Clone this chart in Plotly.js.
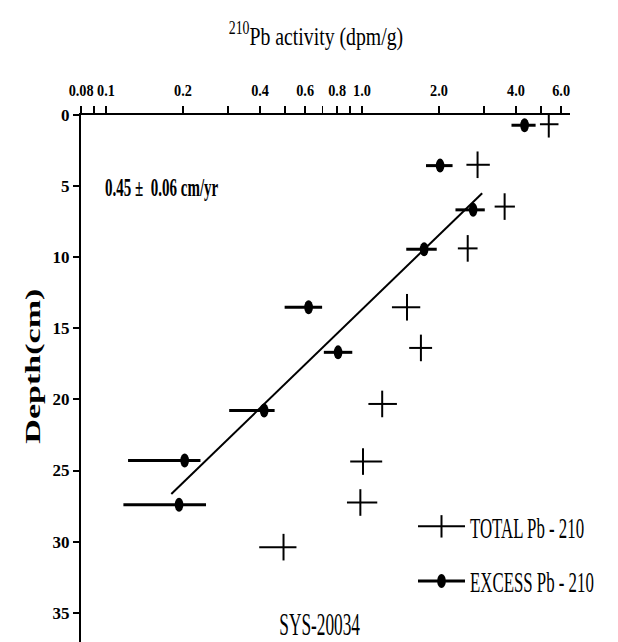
<!DOCTYPE html>
<html>
<head>
<meta charset="utf-8">
<script src="https://cdn.plot.ly/plotly-3.0.1.min.js"></script>
<style>
  html, body { margin: 0; padding: 0; background: #fff; }
  #chart { width: 618px; height: 642px; }
</style>
</head>
<body>
<div id="chart"></div>
<script>
// Core SYS-20034: 210Pb activity (dpm/g) versus depth (cm)

// Total 210Pb: value and horizontal error limits
var totalDepth = [0.65, 3.5, 6.44, 9.38, 13.52, 16.38, 20.32, 24.37, 27.25, 30.39];
var totalVal   = [5.37, 2.83, 3.61, 2.59, 1.50, 1.70, 1.20, 1.01, 0.986, 0.494];
var totalLo    = [4.96, 2.56, 3.30, 2.37, 1.31, 1.53, 1.06, 0.90, 0.874, 0.397];
var totalHi    = [5.86, 3.16, 3.96, 2.83, 1.69, 1.88, 1.37, 1.20, 1.148, 0.555];

// Excess 210Pb: value and horizontal error limits
var excessDepth = [0.72, 3.56, 6.67, 9.44, 13.52, 16.69, 20.78, 24.30, 27.41];
var excessVal   = [4.32, 2.02, 2.72, 1.75, 0.619, 0.807, 0.415, 0.203, 0.193];
var excessLo    = [3.84, 1.78, 2.32, 1.49, 0.499, 0.71, 0.303, 0.122, 0.117];
var excessHi    = [4.77, 2.26, 3.02, 1.96, 0.699, 0.917, 0.456, 0.234, 0.246];

// Regression line through the excess profile
var fitVal   = [2.95, 0.18];
var fitDepth = [5.5, 26.65];

// Axis ticks
var xTickVals = [0.08, 0.09, 0.1, 0.2, 0.3, 0.4, 0.5, 0.6, 0.7, 0.8, 0.9, 1, 2, 3, 4, 5, 6];
var xTickText = ['0.08', '', '0.1', '0.2', '', '0.4', '', '0.6', '', '0.8', '', '1.0', '2.0', '', '4.0', '', '6.0'];
var yTickVals = [0, 5, 10, 15, 20, 25, 30, 35];

var rateText  = '0.45 \u00b1\u00a0 0.06 cm/yr';
var coreName  = 'SYS-20034';
var totalName = 'TOTAL Pb - 210';
var excessName = 'EXCESS Pb - 210';

var serif = '"Liberation Serif", "Times New Roman", serif';

function plus(vals, hi) { return vals.map(function (v, i) { return hi[i] - v; }); }
function minus(vals, lo) { return vals.map(function (v, i) { return v - lo[i]; }); }

var traces = [
  {
    x: fitVal, y: fitDepth, mode: 'lines',
    line: { color: '#000', width: 2 },
    showlegend: false, hoverinfo: 'skip'
  },
  {
    x: totalVal, y: totalDepth, mode: 'markers',
    marker: { symbol: 'line-ns', size: 19, color: '#000', line: { color: '#000', width: 2 } },
    error_x: { type: 'data', symmetric: false, array: plus(totalVal, totalHi),
               arrayminus: minus(totalVal, totalLo), color: '#000', thickness: 2, width: 0 },
    showlegend: false
  },
  {
    x: excessVal, y: excessDepth, mode: 'markers',
    marker: { symbol: 'circle', size: 14, color: '#000' },
    error_x: { type: 'data', symmetric: false, array: plus(excessVal, excessHi),
               arrayminus: minus(excessVal, excessLo), color: '#000', thickness: 3, width: 0 },
    showlegend: false
  },
  // legend keys: a line with the series marker in the middle
  {
    x: [null], y: [null], mode: 'lines+markers', name: totalName, legendgroup: 'total',
    line: { color: '#000', width: 2 },
    marker: { symbol: 'line-ns', size: 19, color: '#000', line: { color: '#000', width: 2 } }
  },
  {
    x: [null], y: [null], mode: 'lines+markers', name: excessName, legendgroup: 'excess',
    line: { color: '#000', width: 3 },
    marker: { symbol: 'circle', size: 14, color: '#000' }
  }
];

var W = 618, H = 642, L = 81, R = 48, T = 115, B = 0;
function px2paperX(px) { return (px - L) / (W - L - R); }
function px2paperY(py) { return 1 - (py - T) / (H - T - B); }

var layout = {
  width: W, height: H,
  margin: { l: L, r: R, t: T, b: B, pad: 0, autoexpand: false },
  paper_bgcolor: '#fff', plot_bgcolor: '#fff',
  font: { family: serif, color: '#000' },
  title: {
    text: '<sup>210</sup>Pb activity (dpm/g)',
    font: { family: serif, size: 26, color: '#000' },
    xref: 'container', yref: 'container', x: 316 / W, xanchor: 'center',
    y: 1 - 36 / H, yanchor: 'middle'
  },
  xaxis: {
    type: 'log', side: 'top',
    range: [Math.log10(0.0799), Math.log10(6.5)],
    tickmode: 'array', tickvals: xTickVals, ticktext: xTickText, tickangle: 0,
    ticks: 'outside', ticklen: 7, tickwidth: 1.5, tickcolor: '#000', ticklabelstandoff: 3,
    tickfont: { family: serif, size: 17, weight: 'bold', color: '#000' },
    showline: true, linewidth: 2.5, linecolor: '#000',
    showgrid: false, zeroline: false
  },
  yaxis: {
    range: [37.06, 0],
    tickmode: 'array', tickvals: yTickVals,
    ticks: 'outside', ticklen: 6, tickwidth: 2, tickcolor: '#000',
    tickfont: { family: serif, size: 17, weight: 'bold', color: '#000' },
    showline: true, linewidth: 2, linecolor: '#000',
    showgrid: false, zeroline: false
  },
  showlegend: true,
  legend: {
    x: px2paperX(413), y: px2paperY(554), xanchor: 'left', yanchor: 'middle',
    font: { family: serif, size: 29, color: '#000' },
    bgcolor: 'rgba(0,0,0,0)', borderwidth: 0, itemwidth: 47,
    tracegroupgap: 14, traceorder: 'grouped'
  },
  annotations: [
    {
      text: rateText, xref: 'paper', yref: 'paper',
      x: px2paperX(103), y: px2paperY(187), xanchor: 'left', yanchor: 'middle', align: 'left',
      showarrow: false, font: { family: serif, size: 25, weight: 'bold', color: '#000' }
    },
    {
      text: coreName, xref: 'paper', yref: 'paper',
      x: px2paperX(319), y: px2paperY(624), xanchor: 'center', yanchor: 'middle',
      showarrow: false, font: { family: serif, size: 32, color: '#000' }
    },
    {
      text: 'Depth(cm)', xref: 'paper', yref: 'paper', textangle: -90,
      x: px2paperX(33), y: px2paperY(366), xanchor: 'center', yanchor: 'middle',
      showarrow: false, font: { family: serif, size: 21, weight: 'bold', color: '#000' }
    }
  ]
};

// Narrow (or stretch) SVG text along its own baseline direction
function squeeze(nodes, f) {
  Array.prototype.forEach.call(nodes, function (t) {
    var key = t.textContent + '|' + f;
    if (t.getAttribute('data-squeezed') === key) return;
    t.removeAttribute('textLength');
    var w = t.getComputedTextLength();
    if (w > 0) {
      t.setAttribute('textLength', (w * f).toFixed(2));
      t.setAttribute('lengthAdjust', 'spacingAndGlyphs');
      t.setAttribute('data-squeezed', key);
    }
  });
}

// Make round markers slimmer than they are tall
function slim(nodes, f) {
  Array.prototype.forEach.call(nodes, function (p) {
    var tr = p.getAttribute('transform') || '';
    if (tr.indexOf('scale') >= 0) return;
    p.setAttribute('transform', tr + ' scale(' + f + ',1)');
  });
}

function finish(gd) {
  squeeze(gd.querySelectorAll('.xtick text'), 0.84);
  squeeze(gd.querySelectorAll('.gtitle'), 0.76);
  squeeze(gd.querySelectorAll('.legendtext'), 0.58);
  var ann = gd.querySelectorAll('.annotation-text');
  var annFactor = [0.6, 0.54, 1.62];
  Array.prototype.forEach.call(ann, function (t, i) { squeeze([t], annFactor[i]); });
  var tr = gd.querySelectorAll('.scatterlayer .trace');
  if (tr[2]) slim(tr[2].querySelectorAll('path.point'), 0.62);
  var keys = gd.querySelectorAll('.legend .traces');
  if (keys[1]) slim(keys[1].querySelectorAll('path.scatterpts'), 0.62);
}

var gd = document.getElementById('chart');
new MutationObserver(function () { finish(gd); }).observe(gd, { childList: true, subtree: true });

Plotly.newPlot(gd, traces, layout, { staticPlot: true }).then(function () {
  finish(gd);
  [30, 100, 300, 800].forEach(function (ms) { setTimeout(function () { finish(gd); }, ms); });
});
</script>
</body>
</html>
